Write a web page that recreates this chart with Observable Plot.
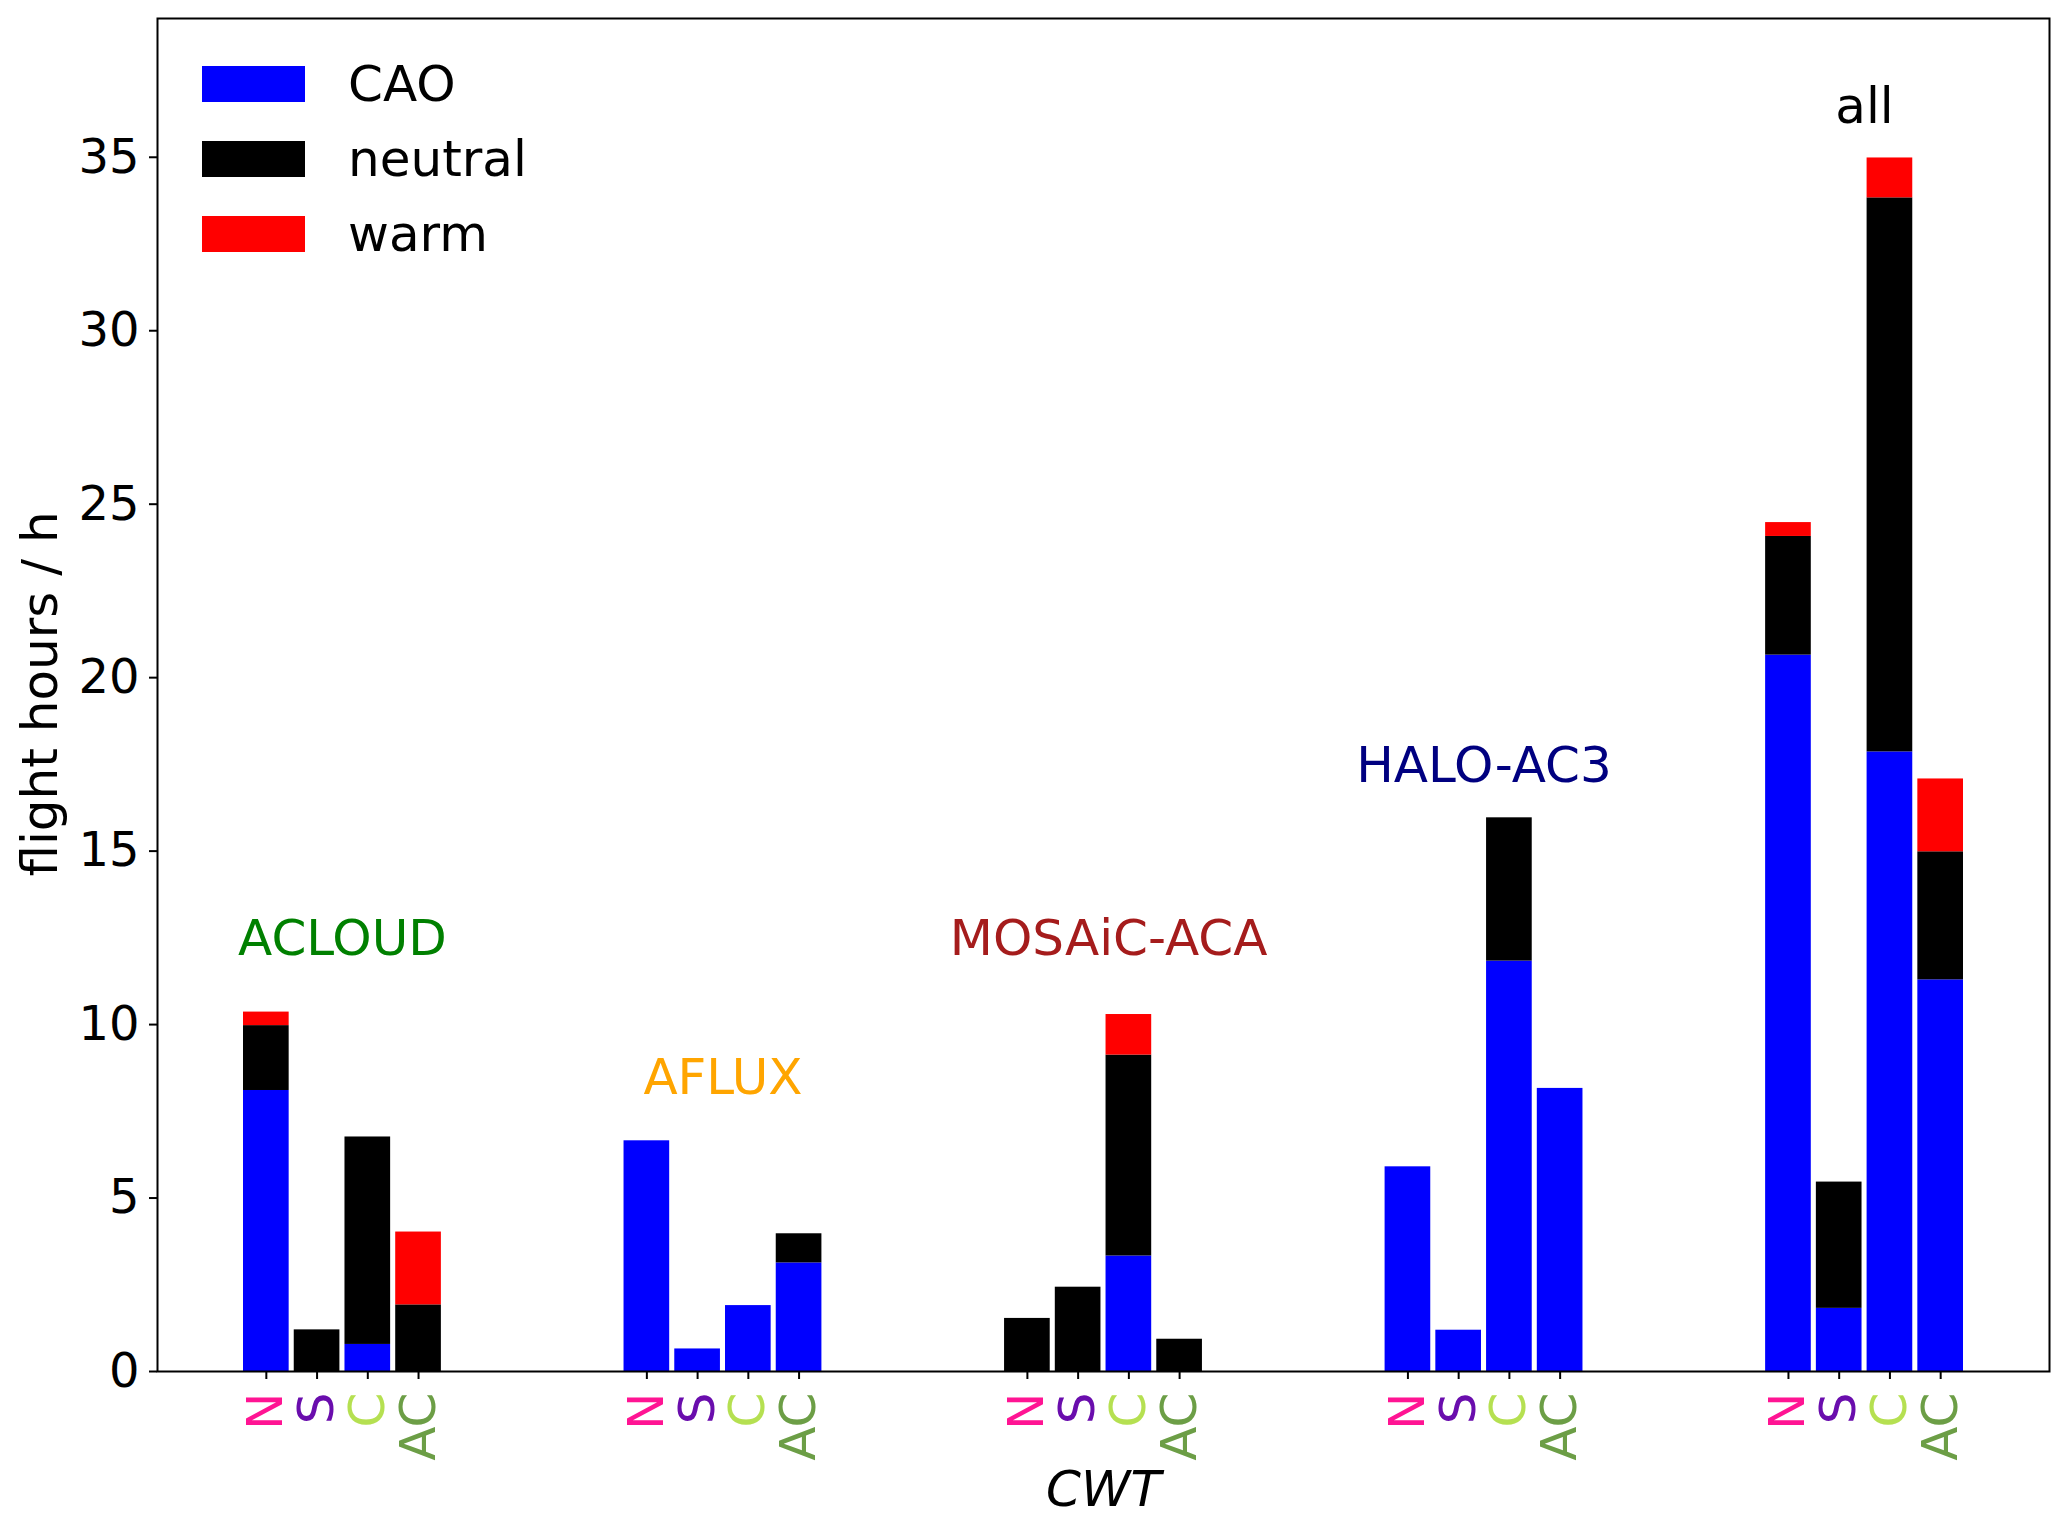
<!DOCTYPE html>
<html>
<head>
<meta charset="utf-8">
<script src="https://cdn.jsdelivr.net/npm/d3@7"></script>
<script src="https://cdn.jsdelivr.net/npm/@observablehq/plot@0.6"></script>
<style>
  body { margin: 0; background: white; font-family: "DejaVu Sans", sans-serif; }
  #wrap { position: relative; width: 2067px; height: 1521px; overflow: hidden; }
  #legend { position: absolute; left: 202px; top: 66px; }
  .row { display: flex; align-items: center; height: 36px; margin-bottom: 39px; }
  .sw { width: 103px; height: 36px; }
  .lab { margin-left: 43px; font-size: 50px; line-height: 36px; color: black; }
  #ylabel { position: absolute; left: 40px; top: 694px; font-size: 50px; white-space: nowrap;
            transform: translate(-50%, -50%) rotate(-90deg); color: black; }
</style>
</head>
<body>
<div id="wrap">
  <div id="chart"></div>
  <div id="legend"></div>
  <div id="ylabel">flight hours / h</div>
</div>
<script>
// campaigns and circulation weather types
const campaigns = ["ACLOUD", "AFLUX", "MOSAiC-ACA", "HALO-AC3", "all"];
const campaignColors = ["green", "orange", "#a51c1c", "navy", "black"];
const cwt = ["N", "S", "C", "AC"];
const cwtColors = ["#ff1493", "#6a0dad", "#b5e051", "#6c9e46"];
const regimes = ["CAO", "neutral", "warm"];
const regimeColors = ["blue", "black", "red"];

// flight hours per campaign, order N, S, C, AC
const cao = [
    [8.1, 0, 0.78, 0],
    [6.65, 0.65, 1.9, 3.13],
    [0, 0, 3.33, 0],
    [5.9, 1.19, 11.83, 8.16],
    [20.65, 1.82, 17.86, 11.29]
];
const neutral = [
    [1.87, 1.2, 5.98, 1.92],
    [0, 0, 0, 0.84],
    [1.53, 2.43, 5.79, 0.93],
    [0, 0, 4.13, 0],
    [3.42, 3.64, 15.97, 3.69]
];
const warm = [
    [0.39, 0, 0, 2.1],
    [0, 0, 0, 0],
    [0, 0, 1.17, 0],
    [0, 0, 0, 0],
    [0.4, 0, 1.15, 2.1]
];

// campaign label positions (x in bar units, y in hours)
const labelX = [1.5, 9, 16.6, 24, 31.5];
const labelY = [12, 8, 12, 17, 36];

const yTicks = [0, 5, 10, 15, 20, 25, 30, 35];

const step = 7.5;   // distance between campaign groups
const half = 0.45;  // half bar width

let rows = [];
let ticks = [];
campaigns.forEach((c, i) => {
    cwt.forEach((t, j) => {
        let pos = i * step + j;
        ticks.push({pos: pos, label: t, color: cwtColors[j]});
        rows.push({pos: pos, type: "CAO", value: cao[i][j]});
        rows.push({pos: pos, type: "neutral", value: neutral[i][j]});
        rows.push({pos: pos, type: "warm", value: warm[i][j]});
    });
});

let labels = campaigns.map((c, i) => ({name: c, x: labelX[i], y: labelY[i], color: campaignColors[i]}));

const stacked = Plot.stackY({x: "pos", y: "value", fill: "type"});

let plot = Plot.plot({
    width: 2067,
    height: 1521,
    marginLeft: 157,
    marginRight: 18,
    marginTop: 18,
    marginBottom: 150,
    style: {fontFamily: "DejaVu Sans", background: "white"},
    x: {domain: [-2.145, 35.145]},
    y: {domain: [0, 39]},
    color: {domain: regimes, range: regimeColors},
    marks: [
        Plot.rect(rows, {
            ...stacked,
            x1: d => d.pos - half,
            x2: d => d.pos + half
        }),
        Plot.axisY(yTicks, {
            tickSize: 8,
            tickPadding: 10,
            strokeWidth: 2,
            fontSize: 48,
            label: null
        }),
        Plot.axisX(ticks.map(d => d.pos), {
            tickSize: 8,
            strokeWidth: 2,
            tickFormat: () => "",
            label: null
        }),
        Plot.text(ticks, {
            x: "pos",
            y: 0,
            text: "label",
            fill: d => d.color,
            rotate: -90,
            textAnchor: "end",
            lineAnchor: "middle",
            dy: 21,
            fontSize: 50
        }),
        Plot.text(labels, {
            x: "x",
            y: "y",
            text: "name",
            fill: d => d.color,
            lineAnchor: "bottom",
            fontSize: 50
        }),
        Plot.text(["CWT"], {
            frameAnchor: "bottom",
            dy: 118,
            lineAnchor: "middle",
            fontSize: 50,
            fontStyle: "italic",
            fill: "black"
        }),
        Plot.frame({stroke: "black", strokeWidth: 2})
    ]
});

document.getElementById("chart").append(plot);

// legend
let leg = document.getElementById("legend");
regimes.forEach((r, i) => {
    let row = document.createElement("div");
    row.className = "row";
    let sw = document.createElement("div");
    sw.className = "sw";
    sw.style.background = regimeColors[i];
    let lab = document.createElement("div");
    lab.className = "lab";
    lab.textContent = r;
    row.append(sw, lab);
    leg.append(row);
});
</script>
</body>
</html>
